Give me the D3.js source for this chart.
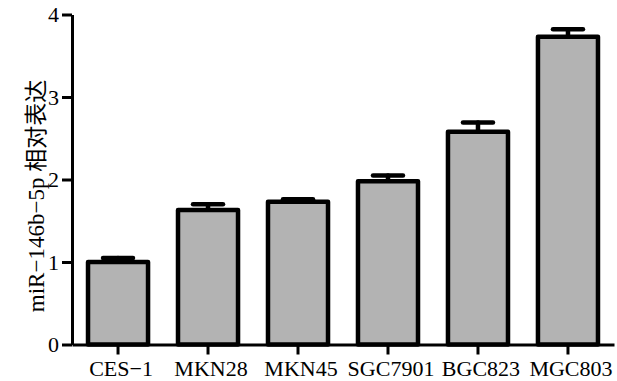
<!DOCTYPE html>
<html lang="zh">
<head>
    <meta charset="UTF-8">
    <title>miR-146b-5p</title>
    <script src="https://d3js.org/d3.v7.min.js"></script>
    <style>
        body { margin: 0; padding: 0; background: #fff; }
        svg { display: block; }
        .axis path, .axis line { stroke: #000; stroke-width: 3; }
    </style>
</head>
<body>
<div id="chart"></div>
<script>
    // values
    const cells = ["CES\u22121", "MKN28", "MKN45", "SGC7901", "BGC823", "MGC803"];
    const means = [1.00, 1.63, 1.73, 1.98, 2.58, 3.73];
    const errors = [0.05, 0.07, 0.03, 0.07, 0.11, 0.09];
    const yTicks = [0, 1, 2, 3, 4];

    const width = 617, height = 381;
    const serif = "'Liberation Serif', 'Times New Roman', serif";

    const svg = d3.select("#chart").append("svg")
        .attr("width", width)
        .attr("height", height);

    const x = d3.scaleBand()
        .domain(cells)
        .range([72, 614])
        .paddingInner(0.333)
        .paddingOuter(0.178);

    const y = d3.scaleLinear()
        .domain([0, 4])
        .range([344.5, 14.5]);

    const data = cells.map((c, i) => ({name: c, value: means[i], err: errors[i]}));

    // error bars (behind bars)
    const eb = svg.append("g")
        .attr("stroke", "#000")
        .attr("stroke-width", 4.5)
        .attr("stroke-linecap", "round");

    eb.selectAll(".stem")
        .data(data)
        .enter().append("line")
        .attr("x1", d => x(d.name) + x.bandwidth() / 2)
        .attr("x2", d => x(d.name) + x.bandwidth() / 2)
        .attr("y1", d => y(d.value))
        .attr("y2", d => y(d.value + d.err));

    eb.selectAll(".cap")
        .data(data)
        .enter().append("line")
        .attr("x1", d => x(d.name) + x.bandwidth() / 2 - 15)
        .attr("x2", d => x(d.name) + x.bandwidth() / 2 + 15)
        .attr("y1", d => y(d.value + d.err))
        .attr("y2", d => y(d.value + d.err));

    svg.append("g").selectAll("rect")
        .data(data)
        .enter().append("rect")
        .attr("x", d => x(d.name))
        .attr("y", d => y(d.value))
        .attr("width", x.bandwidth())
        .attr("height", d => y(0) - y(d.value))
        .attr("fill", "#b3b3b3")
        .attr("stroke", "#000")
        .attr("stroke-width", 4.5)
        .attr("stroke-linejoin", "round");

    const xAxis = svg.append("g")
        .attr("class", "axis")
        .attr("transform", `translate(0,${y(0)})`)
        .call(d3.axisBottom(x).tickSize(10).tickSizeOuter(0).tickPadding(6));

    const yAxis = svg.append("g")
        .attr("class", "axis")
        .attr("transform", "translate(72,0)")
        .call(d3.axisLeft(y).tickValues(yTicks).tickFormat(d3.format("d"))
            .tickSize(10).tickSizeOuter(0).tickPadding(3));

    svg.selectAll(".axis")
        .attr("font-family", serif)
        .attr("font-size", 22);
    svg.selectAll(".axis text").attr("fill", "#000");
    xAxis.selectAll("text").attr("dx", 3);

    svg.append("text")
        .attr("transform", `translate(44,196) rotate(-90)`)
        .attr("text-anchor", "middle")
        .attr("font-family", "'Liberation Serif', 'Noto Sans CJK SC', serif")
        .attr("font-size", 23)
        .text("miR\u2212146b\u22125p 相对表达");
</script>
</body>
</html>
